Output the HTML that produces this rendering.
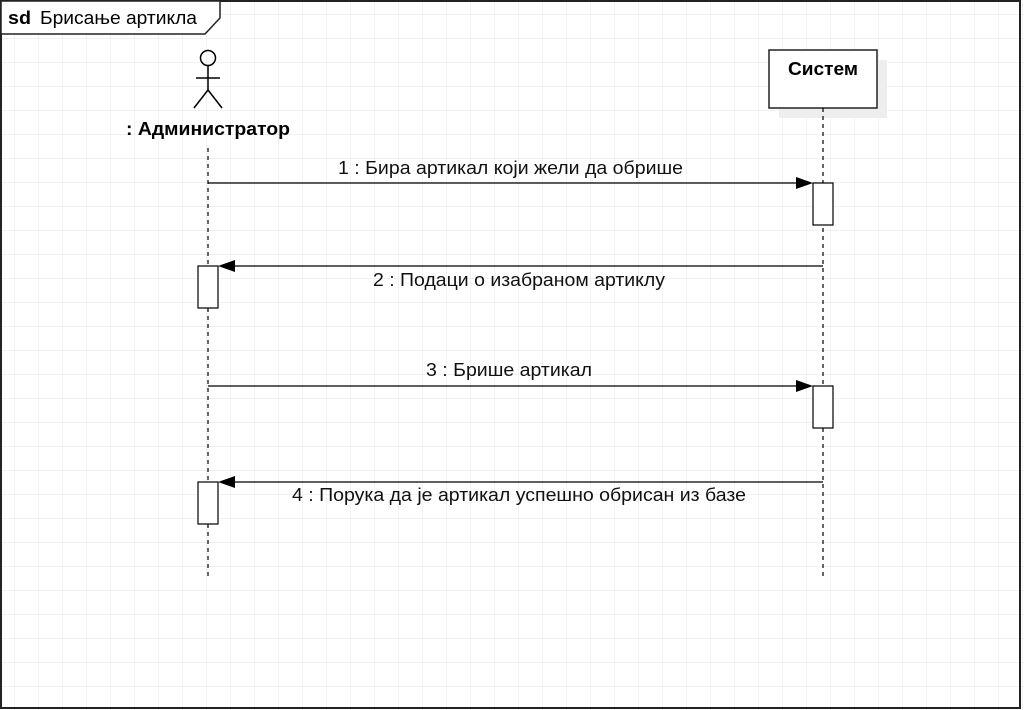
<!DOCTYPE html>
<html><head><meta charset="utf-8"><style>
html,body{margin:0;padding:0;background:#fff}
svg{display:block}
text{font-family:"Liberation Sans",Arial,sans-serif}
</style></head><body>
<svg width="1024" height="710" viewBox="0 0 1024 710" xmlns="http://www.w3.org/2000/svg">
<defs>
<pattern id="g" x="14" y="14" width="24" height="24" patternUnits="userSpaceOnUse">
<path d="M0 0H24M0 0V24" stroke="#e6e6e6" stroke-width="1" fill="none"/>
</pattern>
</defs>
<rect width="1024" height="710" fill="url(#g)"/>
<rect x="1" y="1" width="1019" height="707" fill="none" stroke="#222" stroke-width="2"/>
<path d="M1 1H220V18L205 34H1Z" fill="#fff" stroke="#222" stroke-width="1.5"/>
<text x="8" y="24" font-size="18" font-weight="bold" textLength="23" lengthAdjust="spacingAndGlyphs">sd</text>
<text x="40" y="24" font-size="18" textLength="157" lengthAdjust="spacingAndGlyphs">Брисање артикла</text>

<g stroke="#000" stroke-width="1.5" fill="none">
<circle cx="208" cy="58" r="7.5"/>
<line x1="208" y1="66" x2="208" y2="90"/>
<line x1="196" y1="78" x2="220" y2="78"/>
<line x1="208" y1="90" x2="194" y2="108"/>
<line x1="208" y1="90" x2="222" y2="108"/>
</g>
<text x="126" y="135" font-size="18" font-weight="bold" textLength="164" lengthAdjust="spacingAndGlyphs">: Администратор</text>

<rect x="779" y="60" width="108" height="58" fill="#eee"/>
<rect x="769" y="50" width="108" height="58" fill="#fff" stroke="#222" stroke-width="1.5"/>
<text x="788" y="75" font-size="18" font-weight="bold" textLength="70" lengthAdjust="spacingAndGlyphs">Систем</text>

<g stroke="#000" stroke-width="1.2" stroke-dasharray="4,4">
<line x1="208" y1="148" x2="208" y2="576"/>
<line x1="823" y1="108" x2="823" y2="576"/>
</g>

<g fill="#fff" stroke="#000" stroke-width="1.2">
<rect x="813" y="183" width="20" height="42"/>
<rect x="198" y="266" width="20" height="42"/>
<rect x="813" y="386" width="20" height="42"/>
<rect x="198" y="482" width="20" height="42"/>
</g>

<g stroke="#000" stroke-width="1.3">
<line x1="208" y1="183" x2="800" y2="183"/>
<line x1="823" y1="266" x2="231" y2="266"/>
<line x1="208" y1="386" x2="800" y2="386"/>
<line x1="823" y1="482" x2="231" y2="482"/>
</g>
<g fill="#000">
<path d="M813 183L796 177V189Z"/>
<path d="M218 266L235 260V272Z"/>
<path d="M813 386L796 380V392Z"/>
<path d="M218 482L235 476V488Z"/>
</g>
<g font-size="18" fill="#111" lengthAdjust="spacingAndGlyphs">
<text x="338" y="174" textLength="345" lengthAdjust="spacingAndGlyphs">1 : Бира артикал који жели да обрише</text>
<text x="373" y="286" textLength="292" lengthAdjust="spacingAndGlyphs">2 : Подаци о изабраном артиклу</text>
<text x="426" y="376" textLength="166" lengthAdjust="spacingAndGlyphs">3 : Брише артикал</text>
<text x="292" y="501" textLength="454" lengthAdjust="spacingAndGlyphs">4 : Порука да је артикал успешно обрисан из базе</text>
</g>
</svg>
</body></html>
